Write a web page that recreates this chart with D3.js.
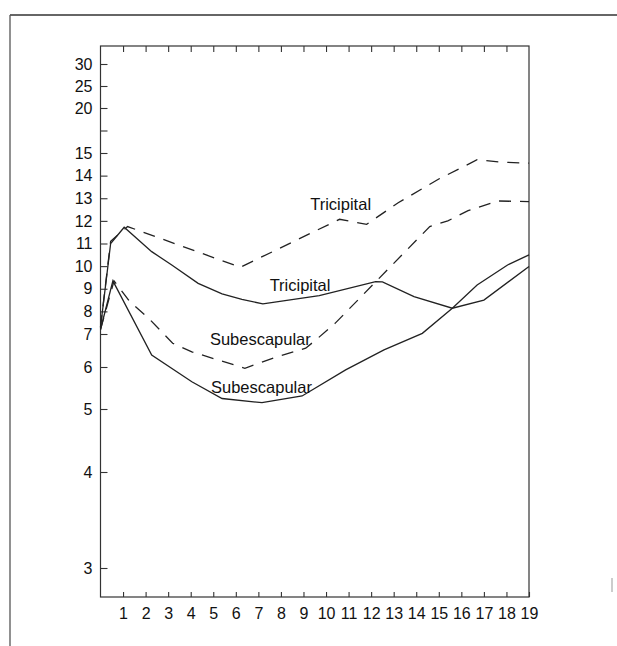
<!DOCTYPE html>
<html>
<head>
<meta charset="utf-8">
<script src="https://cdn.jsdelivr.net/npm/d3@7"></script>
<style>
  body { margin: 0; background: #fff; }
  svg { display: block; }
  text { font-family: "Liberation Sans", Arial, sans-serif; fill: #111; }
</style>
</head>
<body>
<svg id="chart" width="617" height="646"></svg>
<script>
// ages on the x axis
var xTicks = d3.range(1, 20);
// y axis tick values (the unlabeled one is 17.5)
var yTicks = [3, 4, 5, 6, 7, 8, 9, 10, 11, 12, 13, 14, 15, 17.5, 20, 25, 30];
var yLabelled = [3, 4, 5, 6, 7, 8, 9, 10, 11, 12, 13, 14, 15, 20, 25, 30];

// [age, mm]
var tricipitalDashed = [[0, 7.3], [0.45, 11.1], [1.2, 11.75], [6.2, 9.95], [10.6, 12.07], [11.8, 11.85],
  [13.2, 12.8], [15.0, 13.85], [16.7, 14.7], [17.7, 14.6], [19, 14.55]];
var tricipitalSolid = [[0, 7.3], [0.45, 11.0], [1.05, 11.72], [2.27, 10.64], [3.16, 10.05], [4.33, 9.24],
  [5.39, 8.77], [6.27, 8.53], [7.2, 8.33], [9.7, 8.7], [12.2, 9.31], [12.5, 9.3], [13.9, 8.65],
  [15.6, 8.14], [17.0, 8.5], [19, 9.98]];
var subescapularDashed = [[0, 7.2], [0.6, 9.35], [1.3, 8.43], [2.13, 7.7], [3.2, 6.72], [4.05, 6.46],
  [6.4, 5.97], [7.83, 6.31], [9.1, 6.57], [9.6, 6.85], [10.4, 7.47], [14.6, 11.75], [15.4, 12.0],
  [16.3, 12.45], [17.6, 12.88], [19, 12.85]];
var subescapularSolid = [[0, 7.2], [0.55, 9.35], [2.27, 6.36], [4.05, 5.65], [5.39, 5.25], [7.16, 5.15],
  [8.94, 5.31], [10.87, 5.93], [12.57, 6.52], [14.27, 7.03], [15.6, 8.14], [16.7, 9.17], [18.05, 10.05],
  [19, 10.5]];

// curve labels: [text, age, mm]
var curveLabels = [["Tricipital", 9.3, 12.49], ["Tricipital", 7.5, 8.9],
  ["Subescapular", 4.85, 6.67], ["Subescapular", 4.9, 5.38]];

var svg = d3.select("#chart");
var plotTop = 46, plotBottom = 597;

var x = d3.scaleLinear().domain([0, 19]).range([100.5, 529]);
// the paper's y ruling is not a plain log; piecewise scale through its ticks
var y = d3.scaleLinear()
    .domain([3, 4, 5, 6, 7, 15, 20, 30])
    .range([568, 472, 409, 367, 334, 153, 108, 64]);

// scanned page frame
svg.append("line").attr("x1", 10).attr("x2", 617).attr("y1", 15).attr("y2", 15)
    .attr("stroke", "#333").attr("stroke-width", 1.6);
svg.append("line").attr("x1", 10).attr("x2", 10).attr("y1", 15).attr("y2", 646)
    .attr("stroke", "#555").attr("stroke-width", 1.3);
svg.append("line").attr("x1", 612).attr("x2", 612).attr("y1", 578).attr("y2", 592)
    .attr("stroke", "#999").attr("stroke-width", 1);

// plot box
svg.append("rect")
    .attr("x", x(0)).attr("y", plotTop)
    .attr("width", x(19) - x(0)).attr("height", plotBottom - plotTop)
    .attr("fill", "none").attr("stroke", "#333").attr("stroke-width", 1.2);

var yAxis = svg.append("g")
    .attr("transform", "translate(" + x(0) + ",0)")
    .call(d3.axisLeft(y).tickValues(yTicks).tickSize(-7).tickSizeOuter(0).tickPadding(8)
      .tickFormat(function(d) { return yLabelled.indexOf(d) >= 0 ? d : ""; }));

var xAxis = svg.append("g")
    .attr("transform", "translate(0," + plotBottom + ")")
    .call(d3.axisBottom(x).tickValues(xTicks).tickSize(-5).tickSizeOuter(0).tickPadding(11));

var xTop = svg.append("g")
    .attr("transform", "translate(0," + plotTop + ")")
    .call(d3.axisTop(x).tickValues(xTicks.slice(0, 18)).tickSize(-6).tickSizeOuter(0).tickFormat(""));

[yAxis, xAxis, xTop].forEach(function(g) {
  g.select(".domain").remove();
  g.selectAll(".tick line").attr("stroke", "#333").attr("stroke-width", 1.1);
  g.selectAll(".tick text").style("font-size", "16px").attr("fill", "#111");
});

var line = d3.line().x(function(d) { return x(d[0]); }).y(function(d) { return y(d[1]); });

[[tricipitalDashed, true], [subescapularDashed, true], [tricipitalSolid, false], [subescapularSolid, false]]
  .forEach(function(s) {
    svg.append("path")
        .datum(s[0])
        .attr("d", line)
        .attr("fill", "none")
        .attr("stroke", "#222")
        .attr("stroke-width", 1.3)
        .attr("stroke-dasharray", s[1] ? "12,9" : null);
  });

svg.selectAll(".clabel")
    .data(curveLabels)
  .enter().append("text")
    .attr("class", "clabel")
    .attr("x", function(d) { return x(d[1]); })
    .attr("y", function(d) { return y(d[2]); })
    .style("font-size", "16.5px")
    .text(function(d) { return d[0]; });
</script>
</body>
</html>
